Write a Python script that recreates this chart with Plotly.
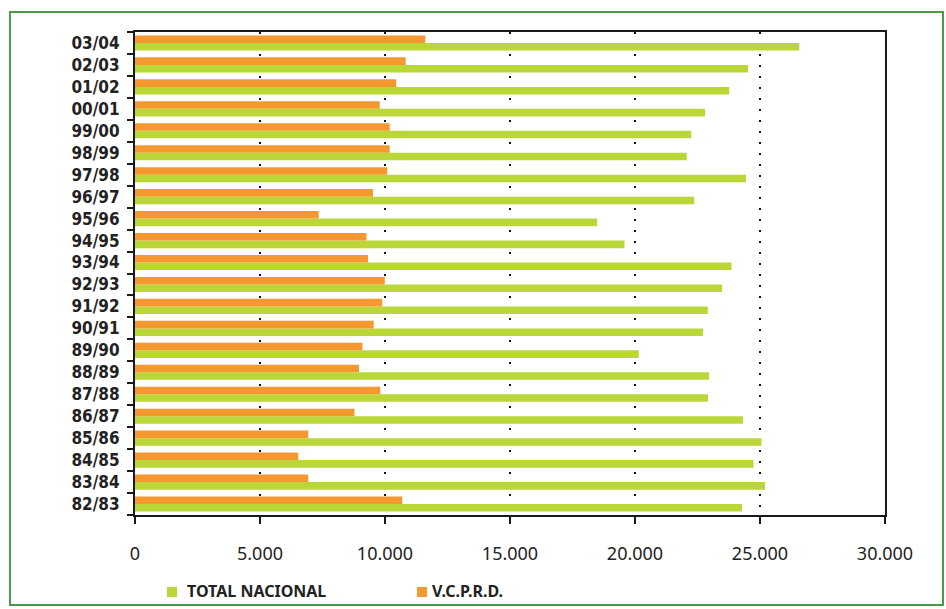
import plotly.graph_objects as go

# Campaign labels, oldest first (drawn bottom to top)
campaigns = ["82/83", "83/84", "84/85", "85/86", "86/87", "87/88", "88/89",
             "89/90", "90/91", "91/92", "92/93", "93/94", "94/95", "95/96",
             "96/97", "97/98", "98/99", "99/00", "00/01", "01/02", "02/03",
             "03/04"]

total_nacional = [24280, 25200, 24740, 25060, 24320, 22920, 22960,
                  20150, 22720, 22910, 23480, 23860, 19580, 18480,
                  22370, 24440, 22070, 22250, 22800, 23770, 24520,
                  26570]

vcprd = [10690, 6930, 6530, 6930, 8780, 9810, 8960,
         9100, 9550, 9890, 9990, 9320, 9260, 7350,
         9520, 10090, 10190, 10190, 9790, 10450, 10830,
         11610]

x_ticks = [0, 5000, 10000, 15000, 20000, 25000, 30000]
x_tick_labels = ["0", "5.000", "10.000", "15.000", "20.000", "25.000", "30.000"]

GREEN = "#b9d737"
ORANGE = "#f5982f"

fig = go.Figure()
fig.add_trace(go.Bar(
    name="TOTAL NACIONAL", y=campaigns, x=total_nacional, orientation="h",
    marker=dict(color=GREEN, line=dict(width=0)),
))
fig.add_trace(go.Bar(
    name="V.C.P.R.D.", y=campaigns, x=vcprd, orientation="h",
    marker=dict(color=ORANGE, line=dict(width=0)),
))

# Legend row below the axis: a colour swatch followed by the series name
legend_shapes = []
legend_notes = []
legend_slots = [(0.0427, 0.0667), (0.376, 0.3935)]  # (swatch left, text left) in paper x
for trace, (sx, tx) in zip(fig.data, legend_slots):
    legend_shapes.append(dict(
        type="rect", xref="paper", yref="paper",
        x0=sx, x1=sx + 0.0133, y0=-0.1698, y1=-0.1491,
        fillcolor=trace.marker.color, line=dict(width=0),
    ))
    legend_notes.append(dict(
        xref="paper", yref="paper", x=tx, y=-0.1574,
        xanchor="left", yanchor="middle", showarrow=False,
        text=trace.name,
        font=dict(family="Noto Sans", size=16, color="#222222", weight="bold"),
    ))

border = dict(
    type="rect", xref="paper", yref="paper",
    x0=-0.1667, x1=1.0773, y0=-0.1863, y1=1.0414,
    line=dict(color="#4a984a", width=2), fillcolor="rgba(0,0,0,0)",
    layer="below",
)

fig.update_layout(
    width=946, height=609,
    margin=dict(l=135, r=61, t=32, b=94),
    paper_bgcolor="white", plot_bgcolor="white",
    barmode="group", bargap=0.31, bargroupgap=0.0,
    separators=",.",
    showlegend=False,
    xaxis=dict(
        range=[0, 30000],
        tickvals=x_ticks, ticktext=x_tick_labels,
        showgrid=True, gridcolor="#111111", gridwidth=2, griddash="2px,9px",
        zeroline=False,
        showline=True, linecolor="#1a1a1a", linewidth=2, mirror=True,
        ticks="outside", ticklen=7, tickwidth=2, tickcolor="#1a1a1a",
        ticklabelstandoff=14,
        tickfont=dict(family="Noto Sans", size=18, color="#222222"),
        layer="above traces",
    ),
    yaxis=dict(
        type="category", categoryorder="array", categoryarray=campaigns,
        tickmode="array", tickvals=campaigns, ticktext=campaigns,
        showgrid=False, zeroline=False,
        showline=True, linecolor="#1a1a1a", linewidth=2, mirror=True,
        ticks="outside", tickson="boundaries", ticklen=6, tickwidth=2,
        tickcolor="#1a1a1a", ticklabelstandoff=10,
        tickfont=dict(family="DejaVu Sans Condensed, DejaVu Sans", size=17,
                      color="#222222", weight="bold"),
    ),
    shapes=[border] + legend_shapes,
    annotations=legend_notes,
)

fig.write_html("out.html")
